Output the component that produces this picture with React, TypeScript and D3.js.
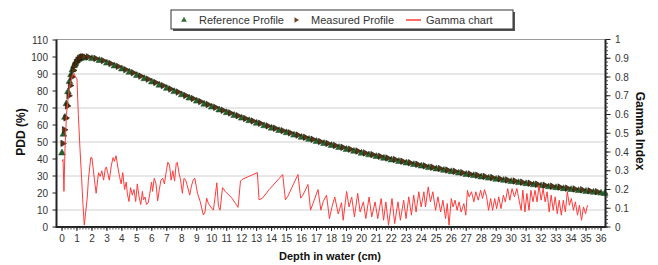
import * as d3 from "d3";

const W = 658;
const H = 265;
const FONT = "'Liberation Sans', Arial, sans-serif";

// depth (cm) / PDD (%)
const referenceProfile: [number, number][] = [
  [0, 44], [0.1, 55], [0.2, 65], [0.3, 73], [0.4, 80], [0.5, 86], [0.6, 90], [0.7, 93],
  [0.8, 95.3], [0.9, 97], [1.0, 98.2], [1.1, 99], [1.2, 99.6], [1.3, 99.9], [1.4, 100], [1.5, 100],
  [2, 99.5], [2.5, 98.4], [3, 96.9], [3.5, 95.2], [4, 93.4], [4.5, 91.5], [5, 89.6], [5.5, 87.7],
  [6, 85.8], [6.5, 83.9], [7, 82.0], [7.5, 80.1], [8, 78.2], [8.5, 76.3], [9, 74.5], [9.5, 72.7],
  [10, 71.0], [10.5, 69.3], [11, 67.7], [11.5, 66.1], [12, 64.5], [12.5, 63.0], [13, 61.5], [13.5, 60.0],
  [14, 58.6], [14.5, 57.2], [15, 55.9], [15.5, 54.5], [16, 53.2], [16.5, 52.0], [17, 50.8], [17.5, 49.6],
  [18, 48.4], [18.5, 47.2], [19, 46.1], [19.5, 45.0], [20, 43.9], [20.5, 42.9], [21, 41.9], [21.5, 40.9],
  [22, 39.9], [22.5, 39.0], [23, 38.1], [23.5, 37.2], [24, 36.3], [24.5, 35.4], [25, 34.6], [25.5, 33.8],
  [26, 33.0], [26.5, 32.2], [27, 31.4], [27.5, 30.7], [28, 29.9], [28.5, 29.2], [29, 28.5], [29.5, 27.9],
  [30, 27.2], [30.5, 26.6], [31, 25.9], [31.5, 25.3], [32, 24.7], [32.5, 24.1], [33, 23.6], [33.5, 23.0],
  [34, 22.5], [34.5, 21.9], [35, 21.4], [35.5, 20.9], [36, 20.4], [36.25, 20.2],
];

const measuredProfile: [number, number][] = [
  [0.05, 49], [0.15, 57], [0.25, 64], [0.35, 71], [0.45, 77], [0.55, 83], [0.65, 88], [0.75, 92],
  [0.85, 94.7], [0.95, 96.6], [1.05, 98], [1.15, 99], [1.25, 99.6], [1.35, 99.9], [1.45, 100],
  [1.75, 99.9], [2.25, 99.0], [2.75, 97.7], [3.25, 96.0], [3.75, 94.3], [4.25, 92.4], [4.75, 90.6],
  [5.25, 88.6], [5.75, 86.8], [6.25, 84.8], [6.75, 83.0], [7.25, 81.0], [7.75, 79.2], [8.25, 77.2],
  [8.75, 75.4], [9.25, 73.6], [9.75, 71.9], [10.25, 70.2], [10.75, 68.5], [11.25, 66.9], [11.75, 65.3],
  [12.25, 63.7], [12.75, 62.2], [13.25, 60.8], [13.75, 59.3], [14.25, 57.9], [14.75, 56.5], [15.25, 55.2],
  [15.75, 53.9], [16.25, 52.6], [16.75, 51.4], [17.25, 50.1], [17.75, 49.0], [18.25, 47.8], [18.75, 46.7],
  [19.25, 45.6], [19.75, 44.5], [20.25, 43.4], [20.75, 42.4], [21.25, 41.4], [21.75, 40.4], [22.25, 39.5],
  [22.75, 38.5], [23.25, 37.6], [23.75, 36.7], [24.25, 35.8], [24.75, 35.0], [25.25, 34.2], [25.75, 33.3],
  [26.25, 32.6], [26.75, 31.8], [27.25, 31.0], [27.75, 30.3], [28.25, 29.6], [28.75, 28.9], [29.25, 28.2],
  [29.75, 27.5], [30.25, 26.9], [30.75, 26.2], [31.25, 25.6], [31.75, 25.0], [32.25, 24.4], [32.75, 23.8],
  [33.25, 23.3], [33.75, 22.7], [34.25, 22.2], [34.75, 21.7], [35.25, 21.1], [35.75, 20.6],
];

// depth (cm) / gamma index
const gammaChart: [number, number][] = [
  [0, 0.35], [0.07, 0.36], [0.13, 0.19], [0.2, 0.42], [0.3, 0.6], [0.45, 0.72], [0.6, 0.78], [0.7, 0.81],
  [0.8, 0.82], [0.9, 0.8], [1.0, 0.79], [1.09, 0.6], [1.2, 0.42], [1.31, 0.26], [1.4, 0.12], [1.49, 0.01],
  [1.69, 0.16], [1.76, 0.25], [1.92, 0.37], [2.0, 0.37], [2.17, 0.25], [2.28, 0.18], [2.44, 0.29],
  [2.55, 0.27], [2.66, 0.3], [2.78, 0.25], [2.89, 0.31], [2.96, 0.32], [3.05, 0.29], [3.16, 0.25],
  [3.3, 0.33], [3.41, 0.37], [3.5, 0.35], [3.61, 0.38], [3.68, 0.345], [3.75, 0.31], [3.84, 0.27],
  [3.95, 0.23], [4.06, 0.29], [4.18, 0.2], [4.29, 0.24], [4.36, 0.18], [4.47, 0.136], [4.58, 0.21],
  [4.7, 0.17], [4.81, 0.2], [4.92, 0.136], [5.03, 0.23], [5.15, 0.16], [5.26, 0.12], [5.37, 0.19],
  [5.44, 0.145], [5.55, 0.16], [5.64, 0.12], [5.76, 0.13], [5.87, 0.18], [5.98, 0.24], [6.05, 0.19],
  [6.16, 0.26], [6.28, 0.23], [6.39, 0.14], [6.5, 0.2], [6.61, 0.25], [6.73, 0.26], [6.84, 0.23],
  [6.95, 0.29], [7.07, 0.345], [7.18, 0.33], [7.29, 0.25], [7.4, 0.3], [7.52, 0.245], [7.63, 0.34],
  [7.7, 0.345], [7.81, 0.29], [7.92, 0.25], [8.04, 0.18], [8.15, 0.26], [8.26, 0.25], [8.37, 0.22],
  [8.53, 0.17], [8.65, 0.22], [8.76, 0.25], [8.87, 0.26], [9.05, 0.18], [9.23, 0.136], [9.44, 0.064],
  [9.55, 0.08], [9.66, 0.154], [9.77, 0.127], [10.0, 0.1], [10.11, 0.09], [10.23, 0.163], [10.34, 0.236],
  [10.45, 0.11], [10.56, 0.09], [10.72, 0.21], [10.9, 0.19], [11.35, 0.154], [11.58, 0.127], [11.76, 0.105],
  [11.92, 0.245], [12.03, 0.254], [12.48, 0.27], [13.05, 0.29], [13.16, 0.145], [13.39, 0.154], [13.84, 0.2],
  [14.74, 0.28], [14.92, 0.145], [15.08, 0.163], [15.76, 0.28], [15.94, 0.154], [16.09, 0.17], [16.43, 0.227],
  [16.6, 0.09], [16.77, 0.127], [17.1, 0.2], [17.29, 0.09], [17.45, 0.136], [17.67, 0.17], [17.86, 0.045],
  [18.04, 0.11], [18.22, 0.16], [18.45, 0.07], [18.67, 0.13], [18.78, 0.036], [19.01, 0.19], [19.17, 0.107],
  [19.35, 0.16], [19.53, 0.054], [19.75, 0.18], [19.91, 0.08], [20.13, 0.134], [20.29, 0.045], [20.51, 0.16],
  [20.69, 0.054], [20.91, 0.134], [21.09, 0.045], [21.32, 0.152], [21.48, 0.036], [21.63, 0.134], [21.81, 0.009],
  [22.04, 0.152], [22.22, 0.018], [22.44, 0.134], [22.6, 0.036], [22.82, 0.143], [22.98, 0.045], [23.16, 0.161],
  [23.34, 0.063], [23.49, 0.17], [23.65, 0.08], [23.83, 0.188], [23.99, 0.107], [24.17, 0.188], [24.28, 0.107],
  [24.46, 0.214], [24.61, 0.134], [24.77, 0.188], [24.95, 0.089], [25.11, 0.161], [25.29, 0.08], [25.44, 0.143],
  [25.62, 0.045], [25.73, 0.125], [25.85, 0.009], [26.0, 0.152], [26.12, 0.107], [26.25, 0.143], [26.39, 0.089],
  [26.52, 0.134], [26.66, 0.08], [26.84, 0.125], [26.97, 0.063], [27.08, 0.196], [27.19, 0.161], [27.35, 0.188],
  [27.51, 0.134], [27.64, 0.188], [27.8, 0.143], [27.96, 0.196], [28.09, 0.152], [28.22, 0.2], [28.36, 0.161],
  [28.49, 0.089], [28.63, 0.152], [28.76, 0.089], [28.9, 0.152], [29.03, 0.098], [29.17, 0.161], [29.32, 0.098],
  [29.48, 0.17], [29.61, 0.134], [29.77, 0.205], [29.91, 0.143], [30.06, 0.205], [30.22, 0.161], [30.38, 0.205],
  [30.53, 0.143], [30.67, 0.089], [30.78, 0.196], [30.92, 0.08], [31.05, 0.179], [31.19, 0.089], [31.32, 0.196],
  [31.46, 0.134], [31.59, 0.196], [31.73, 0.134], [31.86, 0.223], [32.0, 0.143], [32.13, 0.205], [32.27, 0.134],
  [32.4, 0.188], [32.54, 0.08], [32.67, 0.17], [32.81, 0.089], [32.94, 0.161], [33.08, 0.071], [33.21, 0.143],
  [33.35, 0.063], [33.48, 0.143], [33.62, 0.08], [33.75, 0.188], [33.89, 0.116], [34.02, 0.152], [34.16, 0.089],
  [34.29, 0.134], [34.43, 0.063], [34.56, 0.116], [34.7, 0.036], [34.83, 0.107], [34.97, 0.071], [35.1, 0.116],
];

const depthTicks = [0, 1, 2, 3, 4, 5, 6, 7, 8, 9, 10, 11, 12, 13, 14, 15, 16, 17, 18, 19, 20, 21, 22, 23, 24, 25, 26, 27, 28, 29, 30, 31, 32, 33, 34, 35, 36];
const pddTicks = [0, 10, 20, 30, 40, 50, 60, 70, 80, 90, 100, 110];
const gammaTicks = [0, 0.1, 0.2, 0.3, 0.4, 0.5, 0.6, 0.7, 0.8, 0.9, 1];
const gridLines = [10, 30, 50, 70, 90];

const PLOT = { left: 56.5, right: 605.5, top: 39.5, bottom: 227 };

export default function App() {
  const x = d3.scaleLinear().domain([0, 36]).range([62, 601]);
  const y = d3.scaleLinear().domain([0, 110]).range([227, 40]);
  const yG = d3.scaleLinear().domain([0, 1]).range([227, 39.5]);

  const gammaLine = d3
    .line<[number, number]>()
    .x((d) => x(d[0]))
    .y((d) => yG(d[1]));

  const triUp = d3.symbol().type(d3.symbolTriangle).size(20)()!;
  const triRight = d3.symbol().type(d3.symbolTriangle).size(18)()!;

  const minorX = d3.range(0, 36.01, 0.2);
  const minorG = d3.range(0, 1.001, 0.02);
  const tickColor = "#333";

  return (
    <div style={{ position: "fixed", left: 0, top: 0 }}>
      <svg width={W} height={H} style={{ display: "block", background: "#fff" }} fontFamily={FONT}>
        {/* grid */}
        {gridLines.map((v) => (
          <line key={v} x1={PLOT.left} x2={PLOT.right} y1={y(v)} y2={y(v)} stroke="#cfcfcf" strokeWidth={1} />
        ))}
        <line x1={PLOT.left} x2={PLOT.right} y1={PLOT.top} y2={PLOT.top} stroke="#9a9a9a" strokeWidth={1} />

        {/* series */}
        <g>
          {referenceProfile.map((d, i) => (
            <path key={i} d={triUp} transform={`translate(${x(d[0])},${y(d[1]) + 0.8})`} fill="#24612c" stroke="#1d4a22" strokeWidth={0.5} />
          ))}
        </g>
        <g>
          {measuredProfile.map((d, i) => (
            <path key={i} d={triRight} transform={`translate(${x(d[0])},${y(d[1]) - 0.3}) rotate(90)`} fill="#5a3515" stroke="#1e1206" strokeWidth={0.6} />
          ))}
        </g>
        <path d={gammaLine(gammaChart)!} fill="none" stroke="#ff3b3b" strokeWidth={1} />

        {/* axes */}
        <line x1={PLOT.left} x2={PLOT.left} y1={PLOT.top} y2={PLOT.bottom + 1} stroke="#222" strokeWidth={2} />
        <line x1={PLOT.right} x2={PLOT.right} y1={PLOT.top} y2={PLOT.bottom + 1} stroke="#222" strokeWidth={2} />
        <line x1={PLOT.left} x2={PLOT.right} y1={PLOT.bottom} y2={PLOT.bottom} stroke="#222" strokeWidth={2} />

        {/* left axis */}
        {pddTicks.map((t) => (
          <g key={t}>
            <line x1={PLOT.left - 4} x2={PLOT.left} y1={y(t)} y2={y(t)} stroke="#222" />
            <text x={48} y={y(t)} dy="0.35em" textAnchor="end" fontSize={10} fill={tickColor}>
              {t}
            </text>
          </g>
        ))}

        {/* right axis */}
        {minorG.map((t, i) => (
          <line key={i} x1={PLOT.right} x2={PLOT.right + 2.5} y1={yG(t)} y2={yG(t)} stroke="#444" />
        ))}
        {gammaTicks.map((t) => (
          <g key={t}>
            <line x1={PLOT.right} x2={PLOT.right + 5} y1={yG(t)} y2={yG(t)} stroke="#222" />
            <text x={615} y={yG(t)} dy="0.35em" textAnchor="start" fontSize={10} fill={tickColor}>
              {d3.format("~g")(t)}
            </text>
          </g>
        ))}

        {/* bottom axis */}
        {minorX.map((t, i) => (
          <line key={i} x1={x(t)} x2={x(t)} y1={PLOT.bottom} y2={PLOT.bottom + 2.5} stroke="#444" />
        ))}
        {depthTicks.map((t) => (
          <g key={t}>
            <line x1={x(t)} x2={x(t)} y1={PLOT.bottom} y2={PLOT.bottom + 4} stroke="#222" />
            <text x={x(t)} y={242} textAnchor="middle" fontSize={10} fill={tickColor}>
              {t}
            </text>
          </g>
        ))}

        {/* titles */}
        <text x={330} y={260} textAnchor="middle" fontSize={11} fontWeight="bold" fill="#111">
          Depth in water (cm)
        </text>
        <text transform="translate(25,132) rotate(-90)" textAnchor="middle" fontSize={12} fontWeight="bold" fill="#111">
          PDD (%)
        </text>
        <text transform="translate(636,131) rotate(90)" textAnchor="middle" fontSize={12} fontWeight="bold" fill="#111">
          Gamma Index
        </text>

        {/* legend */}
        <rect x={173} y={12} width={342} height={19} fill="#555" />
        <rect x={171} y={10} width={342} height={19} fill="#fff" stroke="#333" strokeWidth={1} />
        <path d={d3.symbol().type(d3.symbolTriangle).size(14)()!} transform="translate(184,20)" fill="#2f6b33" />
        <text x={199} y={24} fontSize={11} fill="#333">Reference Profile</text>
        <path d={d3.symbol().type(d3.symbolTriangle).size(12)()!} transform="translate(296,20) rotate(90)" fill="#6e4420" />
        <text x={311} y={24} fontSize={11} fill="#333">Measured Profile</text>
        <line x1={406} x2={421} y1={20} y2={20} stroke="#ff3b3b" strokeWidth={1.5} />
        <text x={426} y={24} fontSize={11} fill="#333">Gamma chart</text>
      </svg>
    </div>
  );
}
